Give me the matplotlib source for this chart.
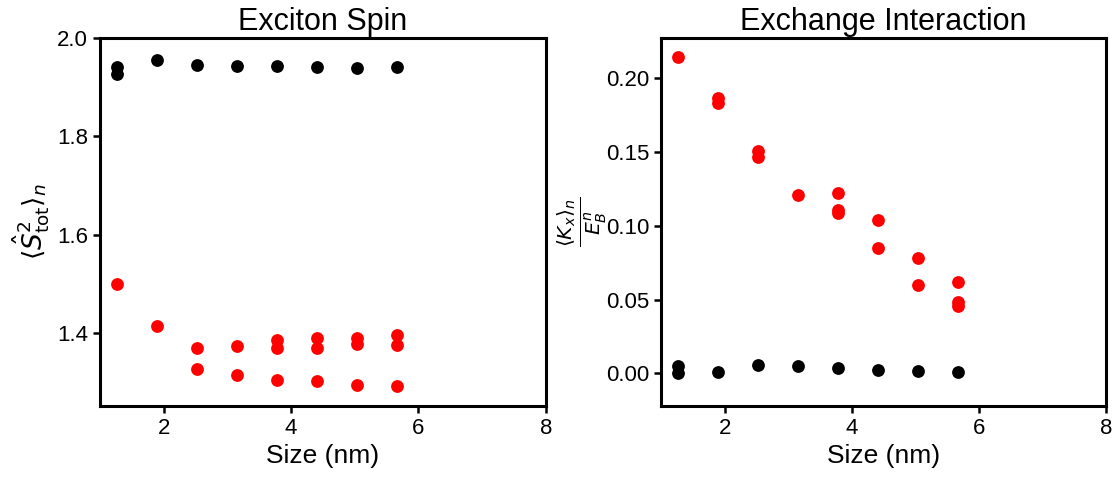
import numpy as np
import matplotlib.pyplot as plt

# --------------------------------------------------------------
# Data
# --------------------------------------------------------------
# exciton spin, lowest (singlet-like) and higher states
spin_black_x = [1.26, 1.26, 1.89, 2.52, 3.15, 3.78, 4.41, 5.04, 5.67]
spin_black_y = [1.941, 1.926, 1.955, 1.946, 1.943, 1.943, 1.941, 1.939, 1.941]

spin_red_x = [1.26, 1.89, 2.52, 2.52, 3.15, 3.15, 3.78, 3.78, 3.78,
              4.41, 4.41, 4.41, 5.04, 5.04, 5.04, 5.67, 5.67, 5.67]
spin_red_y = [1.500, 1.413, 1.370, 1.326, 1.374, 1.314, 1.385, 1.370, 1.304,
              1.389, 1.370, 1.301, 1.389, 1.377, 1.294, 1.395, 1.375, 1.291]

# exchange interaction relative to binding energy
exch_black_x = [1.26, 1.26, 1.89, 2.52, 3.15, 3.78, 4.41, 5.04, 5.67]
exch_black_y = [0.005, 0.000, 0.0007, 0.0058, 0.005, 0.0034, 0.0025, 0.0018, 0.0011]

exch_red_x = [1.26, 1.89, 1.89, 2.52, 2.52, 3.15, 3.78, 3.78, 3.78,
              4.41, 4.41, 5.04, 5.04, 5.67, 5.67, 5.67]
exch_red_y = [0.2146, 0.1865, 0.1831, 0.1504, 0.1465, 0.1211, 0.1220, 0.1106, 0.1084,
              0.1039, 0.0847, 0.0783, 0.0598, 0.0617, 0.0485, 0.0456]

# --------------------------------------------------------------
# Plotting
# --------------------------------------------------------------
plt.rcParams["font.family"] = ["Liberation Sans", "DejaVu Sans"]
plt.rcParams["mathtext.fontset"] = "dejavusans"
plt.rcParams["axes.linewidth"] = 2.2

fig = plt.figure(figsize=(11.14, 4.83), dpi=100)
ax1 = fig.add_axes([0.0898, 0.1594, 0.4002, 0.7619])
ax2 = fig.add_axes([0.5934, 0.1594, 0.3994, 0.7619])

ms = 85
ax1.scatter(spin_black_x, spin_black_y, s=ms, c="black", linewidths=0)
ax1.scatter(spin_red_x, spin_red_y, s=ms, c="red", linewidths=0)
ax1.set_xlim(1.0, 8.0)
ax1.set_ylim(1.251, 2.0)
ax1.set_yticks([1.4, 1.6, 1.8, 2.0])
ax1.set_title("Exciton Spin", fontsize=22)
ax1.set_ylabel(r"$\langle \hat{S}^2_{\rm tot} \rangle_n$", fontsize=19)

ax2.scatter(exch_black_x, exch_black_y, s=ms, c="black", linewidths=0)
ax2.scatter(exch_red_x, exch_red_y, s=ms, c="red", linewidths=0)
ax2.set_xlim(1.0, 8.0)
ax2.set_ylim(-0.0222, 0.2273)
ax2.set_yticks([0.0, 0.05, 0.10, 0.15, 0.20])
ax2.set_title("Exchange Interaction", fontsize=22)
ax2.set_ylabel(r"$\frac{\langle K_x \rangle_n}{E_B^n}$", fontsize=21, labelpad=-2)

for ax in (ax1, ax2):
    ax.set_xticks([2, 4, 6, 8])
    ax.set_xlabel("Size (nm)", fontsize=19)
    ax.tick_params(labelsize=16, width=1.8, length=5)

fig.savefig("out.png", dpi=100)
